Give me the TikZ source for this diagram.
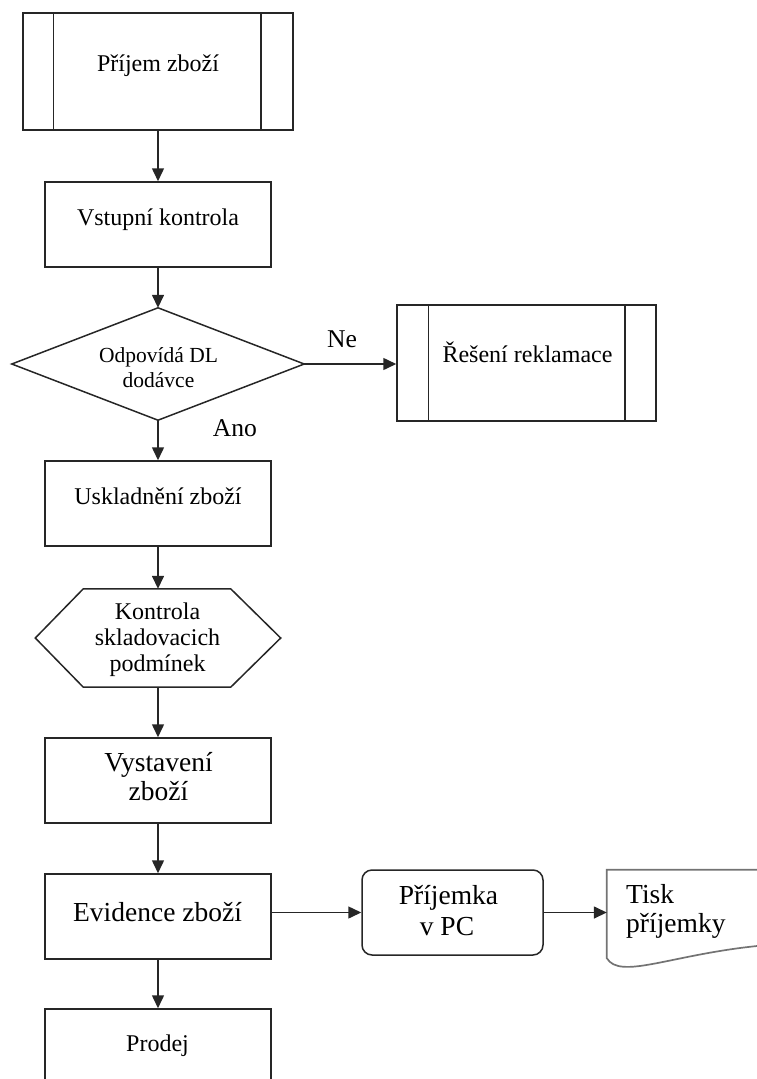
\documentclass[tikz,border=0pt]{standalone}
\usepackage{fontspec}
\setmainfont{Liberation Serif}
\usetikzlibrary{arrows.meta,calc}

\begin{document}
\begin{tikzpicture}[x=1pt,y=-1pt,
  line/.style={draw=black!85, line width=1.5pt},
  arr/.style={line, -{Triangle[length=13pt,width=12pt]}},
  docline/.style={draw=black!55, line width=1.7pt},
  box/.style={rectangle, line, minimum width=226pt, minimum height=85pt, inner sep=0pt},
  ghost/.style={rectangle, inner sep=0pt},
  txs/.style={anchor=base, inner sep=0pt, font=\fontsize{24}{28}\selectfont},
  txb/.style={anchor=base, inner sep=0pt, font=\fontsize{27.5}{32}\selectfont},
  txd/.style={anchor=base, inner sep=0pt, font=\fontsize{21.5}{25}\selectfont},
  txl/.style={anchor=base, inner sep=0pt, font=\fontsize{25.6}{30}\selectfont}]

\useasboundingbox (0,0) rectangle (757,1079);
\clip (0,0) rectangle (757,1079);

% --- main column ---
\node[box, minimum width=270pt, minimum height=117pt] (prijem) at (158,71.5) {};
\draw[line] ([xshift=31pt]prijem.north west) -- ([xshift=31pt]prijem.south west);
\draw[line] ([xshift=-33pt]prijem.north east) -- ([xshift=-33pt]prijem.south east);
\node[txs] (tprijem) at (158,71) {Příjem zboží};

\node[box] (vst) at (158,224.5) {};
\node[txs] (tvst) at (158,225) {Vstupní kontrola};

\node[ghost, minimum width=292pt, minimum height=112pt] (dec) at (158,364) {};
\draw[line] (dec.north) -- (dec.east) -- (dec.south) -- (dec.west) -- cycle;
\node[txd] (tdec1) at (158.5,362) {Odpovídá DL};
\node[txd] (tdec2) at (158.5,387) {dodávce};

\node[box] (usk) at (158,503.5) {};
\node[txs] (tusk) at (158,504) {Uskladnění zboží};

\node[ghost, minimum width=245pt, minimum height=98pt] (hex) at (158,638) {};
\draw[line] (hex.west) -- ([xshift=48pt]hex.north west) -- ([xshift=-50pt]hex.north east)
  -- (hex.east) -- ([xshift=-50pt]hex.south east) -- ([xshift=48pt]hex.south west) -- cycle;
\node[txs] (thex1) at (157.5,619) {Kontrola};
\node[txs] (thex2) at (157.5,645) {skladovacich};
\node[txs] (thex3) at (157.5,671) {podmínek};

\node[box] (vys) at (158,780.5) {};
\node[txb] (tvys1) at (158.5,771) {Vystavení};
\node[txb] (tvys2) at (158.5,800) {zboží};

\node[box] (evid) at (158,916.5) {};
\node[txb] (tevid) at (157.5,921) {Evidence zboží};

\node[box, minimum height=86pt] (prodej) at (158,1052) {};
\node[txs] (tprodej) at (157.5,1051) {Prodej};

% --- side branches ---
\node[box, minimum width=259pt, minimum height=116pt] (res) at (526.5,363) {};
\draw[line] ([xshift=32pt]res.north west) -- ([xshift=32pt]res.south west);
\draw[line] ([xshift=-32pt]res.north east) -- ([xshift=-32pt]res.south east);
\node[txs] (tres) at (527.5,362) {Řešení reklamace};

\node[box, rounded corners=10pt, minimum width=181pt, minimum height=85pt] (pv) at (452.5,912.5) {};
\node[txb] (tpv1) at (448.5,904) {Příjemka};
\node[txb] (tpv2) at (447,935) {v PC};

\node[ghost, minimum width=193pt, minimum height=88pt] (tisk) at (703.5,914) {};
\draw[docline] (tisk.north east) -- (tisk.north west) -- (tisk.south west)
  .. controls (620,980) and (670,955) .. (757,946) -- (800,943);
\node[txb, anchor=base west] (ttisk1) at (626,903) {Tisk};
\node[txb, anchor=base west] (ttisk2) at (626,932) {příjemky};

% --- decision labels ---
\node[txl] (tne) at (342,347) {Ne};
\node[txl] (tano) at (235,436) {Ano};

% --- connectors ---
\draw[arr] (prijem) -- (vst);
\draw[arr] (vst) -- (dec);
\draw[arr] (dec) -- (usk);
\draw[arr] (usk) -- (hex);
\draw[arr] (hex) -- (vys);
\draw[arr] (vys) -- (evid);
\draw[arr] (evid) -- (prodej);
\draw[arr] (dec.east) -- (dec.east -| res.west);
\draw[arr] (evid.east |- pv.west) -- (pv.west);
\draw[arr] (pv.east) -- (pv.east -| tisk.west);

\end{tikzpicture}
\end{document}
